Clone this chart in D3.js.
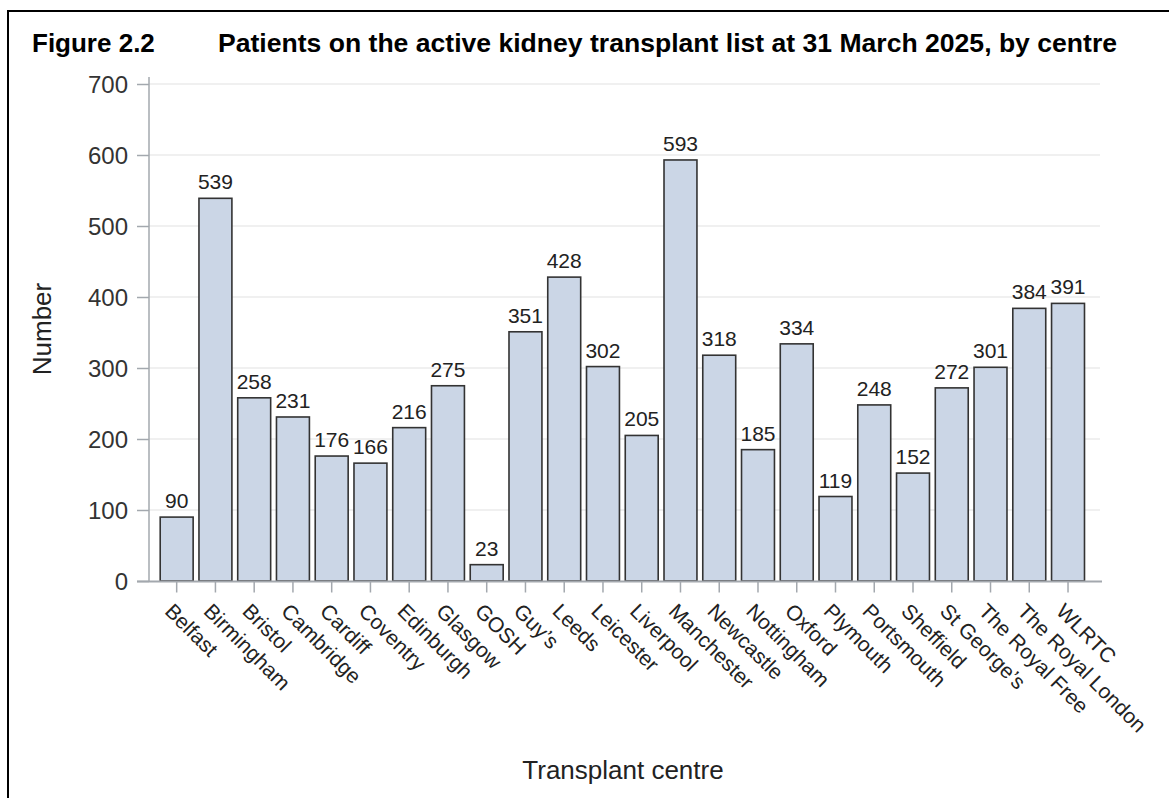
<!DOCTYPE html>
<html>
<head>
<meta charset="utf-8">
<script src="https://cdn.jsdelivr.net/npm/d3@7"></script>
<style>
  html, body { margin: 0; padding: 0; background: #fff; }
  svg { display: block; font-family: "Liberation Sans", Arial, sans-serif; }
</style>
</head>
<body>
<svg id="chart" width="1169" height="798"></svg>
<script>
const centres = ["Belfast","Birmingham","Bristol","Cambridge","Cardiff","Coventry","Edinburgh","Glasgow","GOSH","Guy\u2019s","Leeds","Leicester","Liverpool","Manchester","Newcastle","Nottingham","Oxford","Plymouth","Portsmouth","Sheffield","St George\u2019s","The Royal Free","The Royal London","WLRTC"];
const patients = [90,539,258,231,176,166,216,275,23,351,428,302,205,593,318,185,334,119,248,152,272,301,384,391];
const yTicks = [0,100,200,300,400,500,600,700];
const figureLabel = "Figure 2.2";
const titleText = "Patients on the active kidney transplant list at 31 March 2025, by centre";
const xTitle = "Transplant centre";
const yTitle = "Number";

const svg = d3.select("#chart");

// frame
svg.append("rect").attr("x", 8).attr("y", 11).attr("width", 1200).attr("height", 820)
  .attr("fill", "none").attr("stroke", "#000").attr("stroke-width", 2);

// titles
svg.append("text").attr("x", 32).attr("y", 52).attr("font-size", 26).attr("font-weight", "bold")
  .attr("fill", "#000").text(figureLabel);
svg.append("text").attr("x", 218).attr("y", 52).attr("font-size", 26).attr("font-weight", "bold")
  .attr("fill", "#000").attr("textLength", 899).attr("lengthAdjust", "spacingAndGlyphs").text(titleText);

const x = d3.scaleBand().domain(centres).range([157.3, 1087.4]).paddingInner(0.15).paddingOuter(0.075);
const y = d3.scaleLinear().domain([0, 700]).range([581, 84]);

const axisColor = "#a3a8ae";

// gridlines
svg.append("g").selectAll("line").data(yTicks.filter(d => d > 0)).join("line")
  .attr("x1", 149).attr("x2", 1100)
  .attr("y1", d => y(d)).attr("y2", d => y(d))
  .attr("stroke", "#ebebeb").attr("stroke-width", 1.5);

// bars
svg.append("g").selectAll("rect").data(centres).join("rect")
  .attr("x", d => x(d)).attr("width", x.bandwidth())
  .attr("y", (d, i) => y(patients[i])).attr("height", (d, i) => y(0) - y(patients[i]))
  .attr("fill", "#cbd6e6").attr("stroke", "#333").attr("stroke-width", 1.6);

// value labels
svg.append("g").selectAll("text").data(centres).join("text")
  .attr("x", d => x(d) + x.bandwidth() / 2)
  .attr("y", (d, i) => y(patients[i]) - 9)
  .attr("text-anchor", "middle").attr("font-size", 21).attr("fill", "#222")
  .text((d, i) => patients[i]);

// y axis
const yAxis = svg.append("g").attr("transform", "translate(149,0)")
  .call(d3.axisLeft(y).tickValues(yTicks).tickSize(12).tickPadding(9).tickSizeOuter(0));
yAxis.select(".domain").attr("d", "M0,77V582").attr("stroke", axisColor).attr("stroke-width", 1.5);
yAxis.selectAll(".tick line").attr("stroke", axisColor).attr("stroke-width", 1.5);
yAxis.selectAll(".tick text").attr("font-size", 24).attr("fill", "#333")
  .attr("font-family", "\"Liberation Sans\", Arial, sans-serif").attr("dy", "0.35em");

// x axis
const xAxis = svg.append("g").attr("transform", "translate(0,581.5)")
  .call(d3.axisBottom(x).tickSize(11).tickSizeOuter(0));
xAxis.select(".domain").attr("d", "M137,0H1102").attr("stroke", axisColor).attr("stroke-width", 1.8);
xAxis.selectAll(".tick line").attr("stroke", axisColor).attr("stroke-width", 1.5);
xAxis.selectAll(".tick text")
  .attr("font-size", 21).attr("fill", "#222")
  .attr("font-family", "\"Liberation Sans\", Arial, sans-serif")
  .attr("text-anchor", "start")
  .attr("x", 0).attr("y", 0).attr("dy", 0)
  .attr("transform", "translate(-13,31) rotate(45)");

// axis titles
svg.append("text").attr("x", 623).attr("y", 779).attr("text-anchor", "middle")
  .attr("font-size", 26).attr("fill", "#222").text(xTitle);
svg.append("text").attr("transform", "translate(51,329) rotate(-90)").attr("text-anchor", "middle")
  .attr("font-size", 26).attr("fill", "#222").text(yTitle);
</script>
</body>
</html>
